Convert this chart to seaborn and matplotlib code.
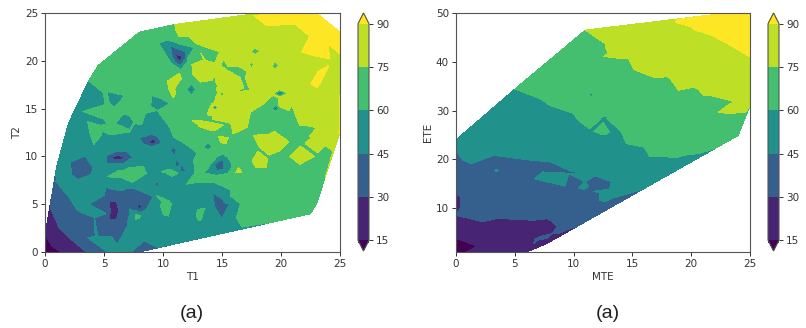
import numpy as np
import matplotlib
matplotlib.use("Agg")
import matplotlib.pyplot as plt
import matplotlib.tri as mtri
import seaborn as sns

# (x, y, value) samples
# ---- left panel: T1, T2
hull_a = [(0,0,8),(1.3,0,15),(3.5,0,30),(4.6,0,42),(6,0,48),(7.3,0,45),(8,0,28),(0.25,2.5,22),(0.5,5,31),
          (0.9,7.5,44),(1,9,48),(2,13.5,53),(3.7,17.9,60),(4.5,19.5,64),(8,23,68),(11,23.8,75),(17,24.8,82),
          (23,25,93),(25,23,93),(25,20.5,89),(25,12.5,91),(24.4,10.6,75),(23,5,66),(22.5,4,64),(16.7,2.6,60),
          (13,1.4,52),(10,0.6,50)]
dark_corner = [(0,1.8,15),(0.6,0.6,15),(0.5,4.5,30),(1.2,2.5,30),(2.5,1,30)]
blue_corner = [(0.9,7.4,45),(2,5.8,45),(3.7,5,45),(4.2,3.6,45),(3.6,1.5,45),(4.5,0.7,45),(2.5,3.5,37),(1.5,5,37),(3,2,37)]
blob_b = [(5.1,6.9,46),(7.1,6.8,46),(7.2,4,46),(7.06,2.6,46),(6.2,0.6,46),(5.6,1.5,46),(4.4,1.6,46),(5.1,4,46),
          (5.5,6,38),(6.7,5.8,38),(6.7,3,38),(5.8,2.2,38),(5.4,5.4,31),(6.1,5.4,31),(6.1,3.3,31),(5.4,3.3,31),(5.75,4.4,22)]
blob_c = [(2,9.6,46),(3.4,10.3,46),(4.2,8.9,46),(4.2,6.1,46),(3.4,5.9,46),(2.7,7.5,46),(3.3,8.2,38)]
blob_e = [(7.5,6.8,46),(9.2,5.9,46),(8.6,4.4,46),(7.2,4.4,46),(8,5.5,38),(7.7,4.7,31),(8.3,4.7,31),(8,4.7,24)]
blob_f = [(5.2,10.1,46),(6.1,10.6,46),(7.5,9.9,46),(6.6,9.2,46),(5.2,9.2,46),(5.6,9.9,31),(6.9,9.9,31),(6.2,9.9,22)]
blob_g = [(7.9,12,46),(9.7,11.8,46),(9,11,46),(8.3,11.3,46),(8.7,11.5,31),(9.6,11.5,31),(9.2,11.5,22)]
blob_top = [(10.3,22.2,61),(12.7,21.4,61),(11.5,19,61),(10.6,19.8,61),(10.6,21.6,46),(11.9,21,46),(11.4,19.5,46),(10.9,20.2,46),
            (11,20.7,31),(11.7,20.5,31),(11.4,19.9,31),(11.4,20.2,20)]
blob_small = [(10.9,10.6,36),(10.6,10.6,46),(11.2,10.6,46),(10.9,11.1,46),(10.9,10.1,46),
              (11.1,9.2,32),(10.7,9.2,46),(11.5,9.2,46),(11.1,9.7,46),(11.1,8.8,46),
              (11.7,8.5,34),(11.4,8.5,46),(12,8.5,46),
              (9.5,7.1,36),(9.3,7.1,46),(9.7,7.1,46),(9.5,7.5,46),(9.5,6.7,46),
              (14.7,9.2,36),(14.3,9.1,47),(15.2,9.7,47),(15.2,8.5,47),(14.5,8.4,47),
              (13.9,9.1,61),(15.5,9.9,61),(15.5,8.2,61),(14.5,8,61),(14.6,10,61),
              (13.8,11,48),(13.4,11,61),(14.2,11,61),(13.8,11.5,61),(13.8,10.6,61)]
blob_right = [(14.1,6.4,46),(15.7,5,46),(15,3.3,46),(14.3,4.7,46),(14.9,4.9,38)]
specks = [(12.4,17,36),(12,17,61),(12.8,17,61),(12.4,17.6,61),(12.4,16.4,61),
          (14.4,15.1,38),(14.1,15.1,76),(14.7,15.1,76),(14.4,15.4,76),(14.4,14.8,76),
          (15,16.5,45),(14.8,16.5,76),(15.2,16.5,76),(15,16.8,76),(15,16.2,76),
          (19.5,15,36),(19.1,15,70),(20,15,70),(19.5,15.5,70),(19.5,14.6,70),
          (19.9,16.6,36),(19.3,16.6,76),(20.6,16.6,76),(19.9,17,76),(19.9,16.2,76),
          (17.8,21,68),(17.4,21,76),(18.3,21,76),(17.8,21.4,76),(17.8,20.6,76),
          (19.5,19.5,68),(19.2,19.5,76),(19.9,19.5,76),(19.5,20,76),(19.5,19,76),
          (17.5,19.6,70),(17.3,19.6,76),(17.7,19.6,76),(17.5,20,76),(17.5,19.2,76),
          (14.2,20.4,68),(13.5,20,76),(14.9,21,76),(14.4,19.7,76)]
teal_upper = [(5.2,16.9,61),(6.9,16.4,61),(5.9,15,61),(5.4,15.5,61),(5.8,16,53),
              (6.6,14.6,61),(7.6,13.6,61),(7.2,12.7,61),(6.8,12.9,61),(7.1,13.6,53),
              (4.8,13.1,61),(5.8,13.4,61),(5.9,12.4,61),(4.9,12.2,61)]
green_main = [(3.2,14.7,60),(5.7,14.8,62),(7.2,14.6,64),(8.5,14.5,60),(9,16.4,60),(10.6,15.5,60),(9.5,14.8,60),(9.5,12.7,60),
              (10.9,12,60),(10.6,13,60),(8.2,13.3,60),(6,18,67),(8,20,67),(9.5,18,67),(7.5,17.5,67),(5,18,66),(9,22,69),(7.5,15.5,67),
              (12,14.8,68),(11.5,13,67),(9.7,15.6,55),(9,13.5,55),(8.6,12.6,55),(10,12.6,54),(8,14.9,66),(8.2,16.2,66),(10.2,16.6,67),(11,14.5,66),
              (11.8,16.2,68),(13.2,16.8,68),(12,18,68),(13,15,68)]
green_g1 = [(3.5,13.8,59),(4.7,13.4,59),(4.9,12.2,59),(4.1,11,59),(3.7,12.5,59),(4.3,12.6,66)]
teal_fill = [(2.5,11,52),(1.5,10,52),(3,15,53),(4.5,10.7,52),(7.5,12.6,54),(8.5,10,52),(9.9,10,52),(3,4.5,48),(4.5,8,52),(8.5,3,52),
             (9.5,2,52),(11.5,5,52),(12,3,52),(14,2,52),(15.8,3.2,55),(12.5,6.3,54),(1.5,8,50),(6.2,7.2,54),(8.5,1.5,50),(11.5,1.7,52),
             (11,7,52),(12,10.5,52),(10,11.3,52),(3.5,10.8,50),(7,10.8,52),(6,11.5,52),(4.6,6,52)]
green_g3 = [(4.8,8.2,59),(8.6,9.1,59),(8.9,8.2,59),(7.5,7.1,59),(5,7.8,59),(6.8,8.3,66)]
green_g4 = [(9.7,8.4,59),(10.9,9.2,59),(11.4,8.2,59),(10.6,8.5,65)]
green_g5 = [(9.3,6.1,59),(10.6,5.4,59),(10.5,3.5,59),(10,3.7,59),(10.2,5,65)]
green_g6 = [(7.6,4,59),(8.2,3.8,59),(7.6,3.3,59),(7.8,3.7,63)]
green_g7 = [(12.9,4.5,59),(13.7,4.7,59),(13.3,3.3,59),(13,3,59),(13.2,4.2,64)]
green_low = [(16.2,3.6,60),(15.7,6.5,60),(14.3,7.3,60),(12,7.1,60),(12.6,9.6,60),(12.9,10.3,60),(11.9,11.3,60),(12.3,12.4,60),
             (17,5,67),(20,5,67),(22,6,67),(19,7,67),(16,8,67),(21,8,68),(15,10.6,67),(13.5,9,67),(16.5,11,66),(22.5,9,68),(13,12,66),(16,6,66),
             (13,8.2,66),(13,10.8,66),(16,10,67),(20,13,68),(22,13,68),(21.5,12,68),(19,13,68),(20.7,12.8,66),(23.5,9,68),(23.5,7,68)]
lime_line = [(10.9,23.3,74),(11.2,22.4,74),(12.9,21.6,74),(12.3,19.7,74),(11.4,18.8,74),(10.3,17.9,74),(10.9,15.9,74),
             (12.4,18.5,74),(13.1,17.6,74),(14.3,17.8,74),(15.4,19.3,74),(16.8,18.3,74),(17.2,17,74),(14.1,15.8,74),(12.7,16,72),
             (15.5,13.3,74),(17.3,12.9,74),(17.6,14.6,74),(19,13.7,74),(21,14.6,74),(22.2,12,74),(23.7,10.8,74)]
lime_fill = [(13,23,82),(15,22,82),(17,22,82),(13.5,19,82),(16,16,82),(18,18,82),(21,18,82),(23,15,83),(24,13,82),(16.5,15,82),(19,22,84),
             (10.7,17,79),(10.9,17.7,80),(11.3,18.2,80),(14.8,14.4,78),(22.5,17,83),(22,15.5,82),(24,17,84),(21,20.5,84),(12,23,80),(16,20.5,82),
             (15.2,18,80),(18,16,80),(20,15.2,78),(16.6,13.4,78),(22,13.4,79),(24,12,80),(23.4,11.5,78),(24.9,13.4,80),(24.3,11.7,78)]
lime_p1 = [(17.4,12.3,74),(19.5,12.8,74),(21,11.5,74),(18,10.8,74),(19,11.8,80)]
lime_p2 = [(20,10.3,74),(21.6,11.3,74),(23,10,74),(23,8.5,74),(20.5,10,74),(22,10,80)]
lime_p3 = [(17.4,9.6,74),(19,9.8,74),(18.8,8.7,74),(17.8,8.7,74),(18.3,9.3,80)]
lime_p4 = [(16.1,8.2,74),(16.8,8.2,74),(16.4,9,74),(16.4,8.5,78)]
lime_p5 = [(12.3,13.8,74),(13.4,13.8,74),(14,13.7,74),(14.5,12.5,74),(14,12.6,74),(13.1,13.5,78),(14,13.2,78)]
lime_p6 = [(14.6,12.2,74),(15.7,12,74),(15.4,11.2,74),(14.8,11.3,74),(15.1,11.8,78)]
yellow_top = [(17.4,24.8,89),(16.8,24,89),(18.8,23.5,89),(21,23.7,89),(22.2,22.5,89),(21.5,20.9,89),(22.7,20.4,89),(24.2,21.4,89),
              (24.4,20,89),(24.9,20.2,89),(21,24.6,96),(23.5,23,96),(24.5,22,95),(19,24.4,95),(23,21.2,95),(22.6,24,95)]
lime_right = [(23,19,89),(23.2,17,89),(23.6,16,89),(22.9,17.5,92),(23.4,18.6,92)]

# ---- right panel: MTE, ETE
hull_b = [(0,1,10),(2.5,1,18),(6,1,28),(7.7,2.7,24),(9,4.5,27),(10.6,6.8,30),(12.4,9.2,38),(15.7,13.7,45),(19.3,19.7,58),(24,24.9,65),
          (25,31,75),(25,41,90),(25,50,96),(23,50,94),(20,49,92),(17.6,48.2,88),(11,46.5,75),(5,34.4,60),(0,24,46),(0,21.8,45),(0,8.5,30),(0,13,31)]
dark_b = [(0,3.8,15),(1.8,2.2,15),(0.2,2.6,12),(0.9,1,15),(0,0.9,10)]
purple_b = [(0,10,24),(0.4,11,30),(0,12,25),(0.4,10,31),(0.4,12.6,31)]
line30 = [(2.3,7.2,30),(3.5,7.9,30),(6.6,7.5,30),(7.7,7.8,30),(9.3,8.5,30),(8.2,7.2,30),(8.6,6.2,30),(8.2,4.8,30),(5,4,22),(3,4,22),(1,6,23),
          (6.5,5,22),(7.5,3.2,24),(7.4,3.7,31),(6.9,3.6,31),(7.3,4.1,31),(7.2,6.2,24)]
line45 = [(1.3,19.1,45),(1.6,22.7,45),(3.2,20.8,45),(6.4,19.8,45),(8,19.5,45),(9.6,17,45),(11,15.4,45),(12.5,13.7,45),(12.2,11.6,45),(12.7,11.3,45)]
blue_fill = [(2,15,38),(5,15,38),(8,12,38),(10,11,38),(6,11,38),(2,11,38),(11,9.8,38),(4,18.6,38),(0.4,18.6,41),(0,17,38),(11,12,38),(9.8,8,36),
             (9.3,6.4,36),(8.8,5.3,33),(10.8,8,35),(1,9.5,34),(4,9.5,34),(7,9.5,34),(10,14,40),(12,10.5,40)]
teal_in_blue = [(6.5,15.8,44),(9.5,17.3,44),(7.3,17.5,44),(7.6,17,50),(9.6,14,44),(11,13.7,44),(10.6,14.2,48),
                (3.2,17.7,44),(3.7,17.7,44),(3.45,17.7,47),(3.45,17.4,44),(3.45,18,44)]
blue_wedge = [(11.7,17,46),(13.2,13.7,46),(12.4,13.2,46),(12.4,14.8,40)]
line60 = [(7.2,32.4,60),(8,31,60),(10,29.4,60),(13,29,60),(14,25.8,60),(14.5,23.2,60),(16,22.5,60),(16.5,20.5,60),(19.3,20.8,60)]
teal_fill_b = [(4,26,52),(7,24,52),(10,24,52),(13,20,52),(16,18,52),(3,28,52),(2,25,50),(6,29,52),(11,20,52),(14,16,50),(17,19,52),(13,24,53),
               (8,28,52),(14,13.5,47),(13.5,12.5,46),(1,23.5,48),(0.8,21.4,50)]
green_wedges = [(10,28.5,59),(12.5,28.3,59),(10.5,27.4,59),(11.3,27.9,64),(11.4,25.8,59),(13.2,25.7,59),(12.3,25,59),(12.6,25.5,63)]
teal_speck = [(11.5,33.2,55),(11.2,33.2,62),(11.9,33.2,62),(11.5,33.7,62),(11.5,32.7,62)]
green_fill = [(8,36,67),(10,40,67),(12,37,67),(14,33,67),(17,28,67),(21,25,67),(18,24,67),(15,29,67),(7,34,66),(22,27.5,70),(12,42,70),(14.5,37,70),
              (17,32,68),(19,30,69),(21.3,27.6,70),(24,28,72),(15.5,25,66),(17.5,21.5,64),(10,34,67),(11.5,30.5,66),(13.5,30.5,67),(8.5,33,66)]
line75 = [(12.4,43.7,74),(12,42,74),(14.5,40.3,74),(14.9,38.3,74),(16.8,36.5,74),(17.9,36.8,74),(18.8,33.8,74),(20.3,34.5,74),(20.9,32.8,74),
          (21.9,29.1,74),(24.6,29.4,74)]
green_tri = [(21.6,32.8,74),(23.3,31.8,74),(22,29.4,74),(22.3,31.4,70)]
lime_fill_b = [(16,43,83),(20,40,83),(18,38,82),(23,36,84),(14.5,44,81),(21,35,82),(24,33,80),(19.5,45,85),(13,44.5,78),(16.2,39,80),(19.5,36,80),
               (21.5,34,78),(24.3,31,78),(23,30.2,77),(13.5,41.5,78),(24.7,30,76)]
line90 = [(18,47.6,89),(20,46.3,89),(21.7,45,89),(22,43.5,89),(23,43.3,89),(24.9,41,89),(22.5,47,95),(24,45,95),(21.5,48.5,95)]

left_groups = [hull_a, dark_corner, blue_corner, blob_b, blob_c, blob_e, blob_f, blob_g, blob_top, blob_small, blob_right, specks,
               teal_upper, green_main, green_g1, teal_fill, green_g3, green_g4, green_g5, green_g6, green_g7, green_low, lime_line,
               lime_fill, lime_p1, lime_p2, lime_p3, lime_p4, lime_p5, lime_p6, yellow_top, lime_right]
right_groups = [hull_b, dark_b, purple_b, line30, line45, blue_fill, teal_in_blue, blue_wedge, line60, teal_fill_b, green_wedges, teal_speck,
                green_fill, line75, green_tri, lime_fill_b, line90]

levels = [15, 30, 45, 60, 75, 90]

sns.set_theme(style="ticks", rc={"axes.edgecolor": "#555555", "xtick.color": "#333333", "ytick.color": "#333333",
                                 "text.color": "#333333", "axes.labelcolor": "#333333", "axes.linewidth": 0.8,
                                 "xtick.major.size": 3, "ytick.major.size": 3, "xtick.major.width": 0.7, "ytick.major.width": 0.7})
cmap = sns.color_palette("viridis", as_cmap=True)

W, H = 806, 328
fig = plt.figure(figsize=(W / 100, H / 100), dpi=100)


def box(x0, x1, y0, y1):
    return [x0 / W, 1 - y1 / H, (x1 - x0) / W, (y1 - y0) / H]


def panel(groups, pos, cpos, xlim, ylim, xlabel, ylabel, yticks):
    pts = np.array(sum(groups, []), dtype=float)
    tri = mtri.Triangulation(pts[:, 0], pts[:, 1])
    ax = fig.add_axes(box(*pos))
    cs = ax.tricontourf(tri, pts[:, 2], levels=levels, cmap=cmap, extend="both")
    ax.set_xlim(xlim)
    ax.set_ylim(ylim)
    ax.set_xticks([0, 5, 10, 15, 20, 25])
    ax.set_yticks(yticks)
    ax.tick_params(labelsize=7.5, pad=2)
    ax.set_xlabel(xlabel, fontsize=7.5, labelpad=2)
    ax.set_ylabel(ylabel, fontsize=7.5, labelpad=2)
    cax = fig.add_axes(box(*cpos))
    cb = fig.colorbar(cs, cax=cax)
    cb.set_ticks(levels)
    cb.ax.tick_params(labelsize=7.5, pad=2, length=3, width=0.7)
    cb.outline.set_edgecolor("#555555")
    return ax


panel(left_groups, (45, 340, 13, 252), (358, 369, 13, 251), (0, 25), (0, 25), "T1", "T2", [0, 5, 10, 15, 20, 25])
panel(right_groups, (456, 750, 13, 252), (768, 779, 13, 251), (0, 25), (1, 50), "MTE", "ETE", [10, 20, 30, 40, 50])

fig.text(192 / W, 1 - 313 / H, "(a)", fontsize=14, family="Liberation Sans", color="#222222", ha="center", va="center")
fig.text(608 / W, 1 - 313 / H, "(a)", fontsize=14, family="Liberation Sans", color="#222222", ha="center", va="center")

fig.savefig("out.png", dpi=100)
